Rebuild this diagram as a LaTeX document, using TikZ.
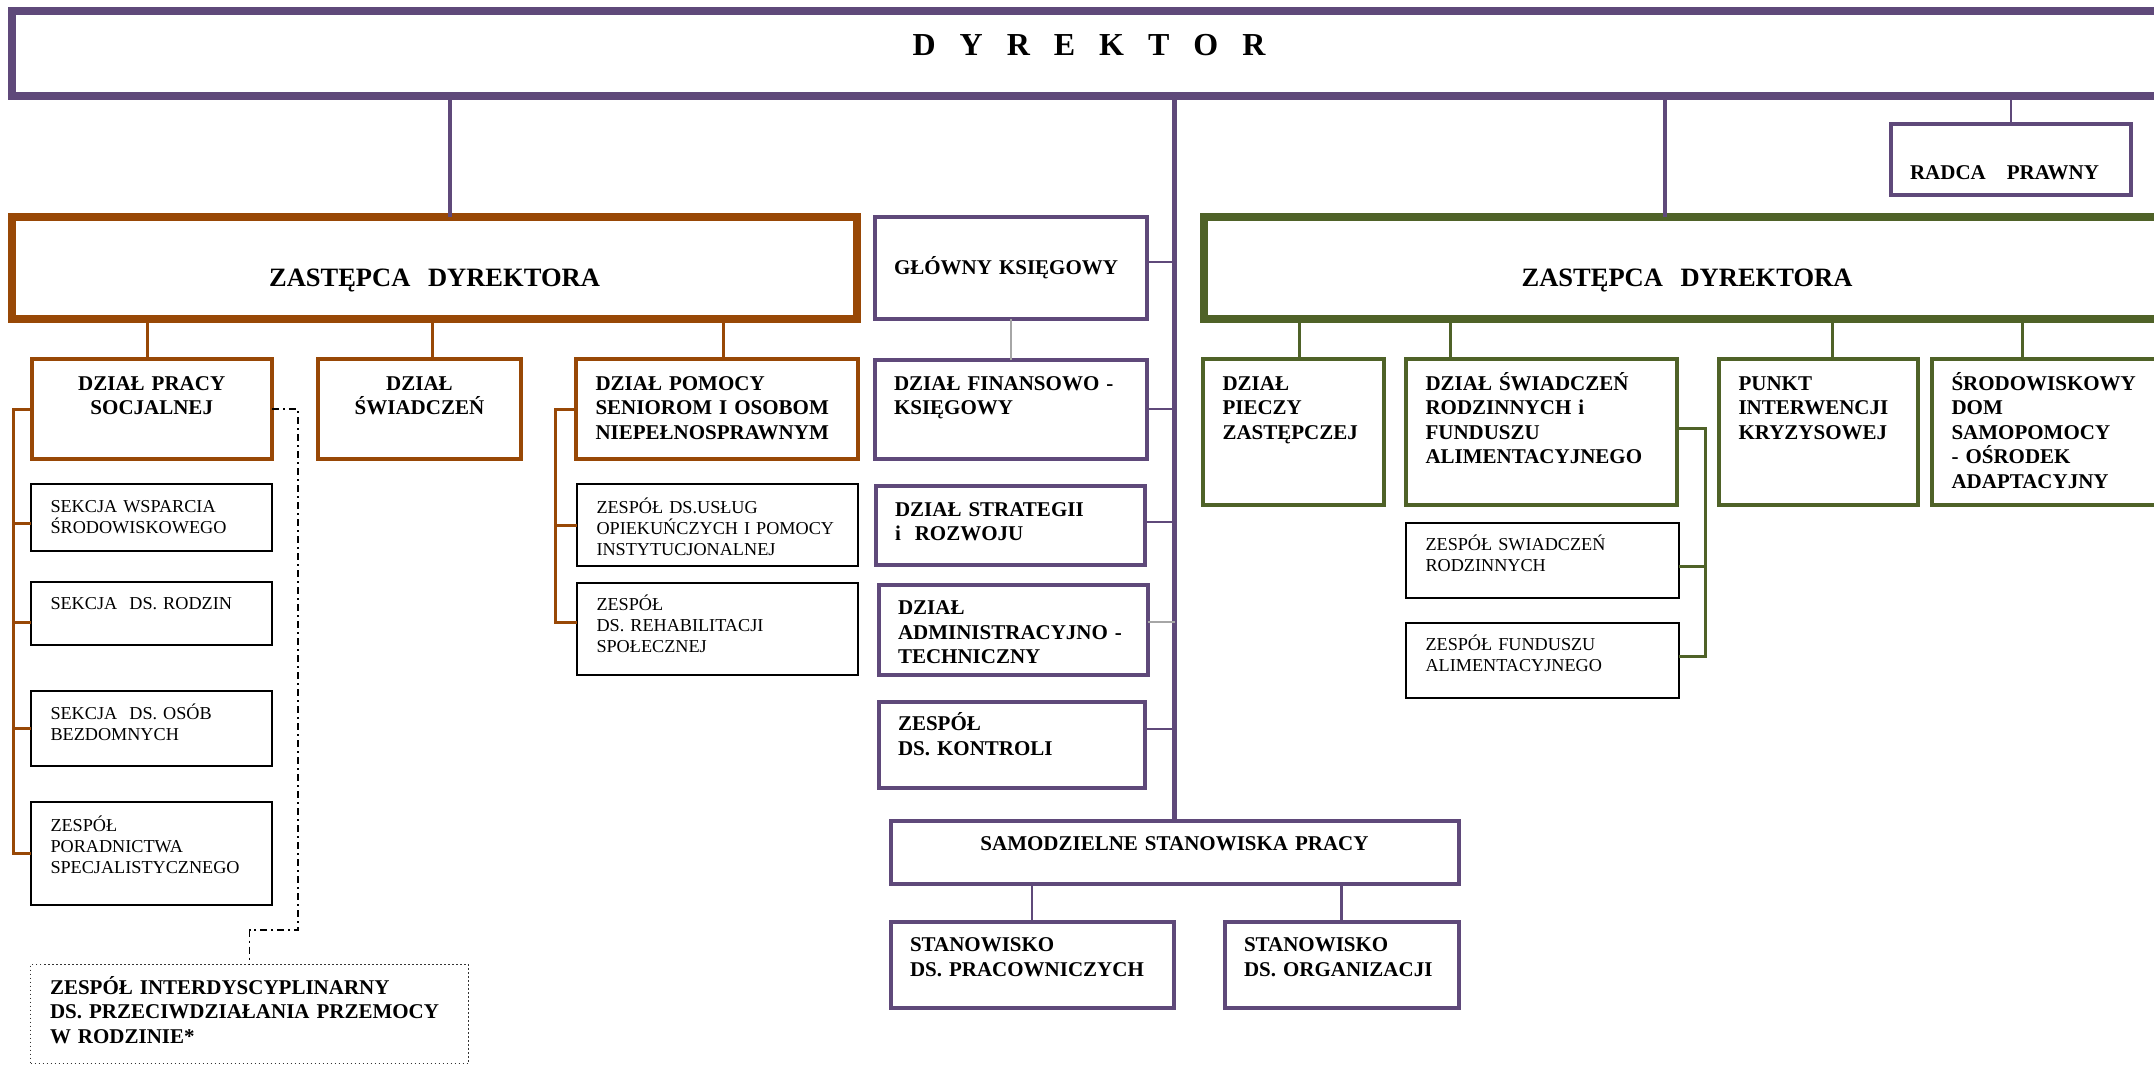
\documentclass[tikz,border=0pt]{standalone}
\usepackage{fontspec}
\setmainfont{Liberation Serif}
\usetikzlibrary{positioning}

\definecolor{purp}{HTML}{5F497A}
\definecolor{orng}{HTML}{984806}
\definecolor{grn}{HTML}{4F6228}
\definecolor{gry}{HTML}{A6A6A6}

\newcommand\dyfont{\fontsize{32}{36}\selectfont\bfseries}
\newcommand\zafont{\fontsize{26.5}{30}\selectfont\bfseries}
\newcommand\dzfont{\fontsize{21}{24.5}\selectfont\bfseries}
\newcommand\sefont{\fontsize{18.2}{21}\selectfont}
\newcommand\dgap{\hspace{24pt}}

\tikzset{
  unit/.style={draw=#1, line width=4pt, anchor=north west, outer sep=0pt,
    inner xsep=19.5pt, inner ysep=0pt, align=left, font=\dzfont},
  big/.style={unit=#1, line width=8pt, align=center, font=\zafont},
  sect/.style={unit=black, line width=2pt, font=\sefont},
  wh/.style n args={3}{text width=#1-39, text height=#3, text depth=#2-#3},
  wire/.style={draw=#1, line width=3pt},
}

\begin{document}
\begin{tikzpicture}[x=1pt,y=-1pt]
  \useasboundingbox (0,0) rectangle (2154,1067);

  % top level
  \node[big=purp, wh={2154}{85}{45}, font=\dyfont] (dyr) at (12,11)
    {D\dgap Y\dgap R\dgap E\dgap K\dgap T\dgap O\dgap R};
  \node[big=orng, wh={845}{102}{70}] (zast_l) at (12,217) {ZASTĘPCA\ \ DYREKTORA};
  \node[big=grn, wh={966}{102}{70}] (zast_r) at (1204,217) {ZASTĘPCA\ \ DYREKTORA};
  \node[unit=purp, wh={240}{71}{55.5}] (rp) at (1890.5,124.5) {RADCA\ \ \ PRAWNY};

  % left deputy
  \node[unit=orng, wh={240.5}{100}{31}, align=center] (d_ps) at (31.5,359) {DZIAŁ PRACY\\SOCJALNEJ};
  \node[unit=orng, wh={203}{100}{31}, align=center] (d_sw) at (318,359) {DZIAŁ\\ŚWIADCZEŃ};
  \node[unit=orng, wh={282}{100}{31}] (d_pom) at (576,359) {DZIAŁ POMOCY\\SENIOROM I OSOBOM\\NIEPEŁNOSPRAWNYM};

  \node[sect, wh={241}{67}{28}] (s_wsp) at (31,484) {SEKCJA WSPARCIA\\ŚRODOWISKOWEGO};
  \node[sect, wh={241}{63}{27}, below=31pt of s_wsp.south west, anchor=north west] (s_rodz) {SEKCJA\ \ DS. RODZIN};
  \node[sect, wh={241}{75}{28}, below=46pt of s_rodz.south west, anchor=north west] (s_bezd) {SEKCJA\ \ DS. OSÓB\\BEZDOMNYCH};
  \node[sect, wh={241}{103}{29}, below=36pt of s_bezd.south west, anchor=north west] (z_por) {ZESPÓŁ\\PORADNICTWA\\SPECJALISTYCZNEGO};
  \node[unit=black!80, line width=1.3pt, dash pattern=on 1.5pt off 2.5pt, wh={438}{99}{29.5}] (z_int) at (30.5,964.5)
    {ZESPÓŁ INTERDYSCYPLINARNY\\DS. PRZECIWDZIAŁANIA PRZEMOCY\\W RODZINIE*};

  \node[sect, wh={281}{82}{29}] (z_usl) at (577,484) {ZESPÓŁ DS.USŁUG\\OPIEKUŃCZYCH I POMOCY\\INSTYTUCJONALNEJ};
  \node[sect, wh={281}{92}{27.6}, below=17pt of z_usl.south west, anchor=north west] (z_reh) {ZESPÓŁ\\DS. REHABILITACJI\\SPOŁECZNEJ};

  % director's own units
  \node[unit=purp, wh={272}{101}{57}] (gk) at (874.5,217.5) {GŁÓWNY KSIĘGOWY};
  \node[unit=purp, wh={272}{99}{30.5}, below=41pt of gk.south west, anchor=north west] (d_fk) {DZIAŁ FINANSOWO -\\KSIĘGOWY};
  \node[unit=purp, wh={269}{79}{30.5}] (d_str) at (875.5,485.5) {DZIAŁ STRATEGII\\i\ \ ROZWOJU};
  \node[unit=purp, wh={269}{90}{30}] (d_adm) at (878.5,584.5) {DZIAŁ\\ADMINISTRACYJNO -\\TECHNICZNY};
  \node[unit=purp, wh={266}{86}{29}] (z_kon) at (878.5,701.5) {ZESPÓŁ\\DS. KONTROLI};
  \node[unit=purp, wh={568}{63}{30}, align=center] (ssp) at (890.5,820.5) {SAMODZIELNE STANOWISKA PRACY};
  \node[unit=purp, wh={283}{86}{30}] (st_pr) at (890.5,921.5) {STANOWISKO\\DS. PRACOWNICZYCH};
  \node[unit=purp, wh={234}{86}{30}, right=51pt of st_pr.north east, anchor=north west] (st_org) {STANOWISKO\\DS. ORGANIZACJI};

  % right deputy
  \node[unit=grn, wh={181}{146}{31}] (d_piecz) at (1203,359) {DZIAŁ\\PIECZY\\ZASTĘPCZEJ};
  \node[unit=grn, wh={271}{146}{31}] (d_swr) at (1406,359) {DZIAŁ ŚWIADCZEŃ\\RODZINNYCH i\\FUNDUSZU\\ALIMENTACYJNEGO};
  \node[unit=grn, wh={199}{146}{31}] (pik) at (1719,359) {PUNKT\\INTERWENCJI\\KRYZYSOWEJ};
  \node[unit=grn, wh={238}{146}{31}] (sdom) at (1932,359) {ŚRODOWISKOWY\\DOM\\SAMOPOMOCY\\- OŚRODEK\\ADAPTACYJNY};

  \node[sect, wh={273}{75}{27}] (z_swr) at (1406,523) {ZESPÓŁ SWIADCZEŃ\\RODZINNYCH};
  \node[sect, wh={273}{75}{27.7}, below=25pt of z_swr.south west, anchor=north west] (z_fund) {ZESPÓŁ FUNDUSZU\\ALIMENTACYJNEGO};

  % connectors from the director
  \draw[wire=purp, line width=4pt] ([xshift=15.5pt]zast_l.north) -- ([xshift=15.5pt]zast_l.north |- dyr.south);
  \draw[wire=purp, line width=4pt] ([xshift=-22pt]zast_r.north) -- ([xshift=-22pt]zast_r.north |- dyr.south);
  \draw[wire=purp, line width=2pt] (rp.north) -- (rp.north |- dyr.south);
  \draw[wire=purp, line width=5pt] (dyr.south -| ssp.north) -- (ssp.north);
  \foreach \n/\dy in {gk/6, d_fk/0, d_str/3, z_kon/15.5}
    \draw[wire=purp, line width=2.5pt] ([yshift=\dy pt]\n.east) -- ([yshift=\dy pt]\n.east -| ssp.north);
  \draw[wire=gry, line width=2pt] ([yshift=7.5pt]d_adm.east) -- ([yshift=7.5pt]d_adm.east -| ssp.north);
  \draw[wire=gry, line width=2pt] (gk.south) -- (d_fk.north);
  \foreach \n in {st_pr, st_org}
    \draw[wire=purp, line width=2.5pt] (\n.north) -- (\n.north |- ssp.south);

  % left deputy
  \foreach \n/\dx in {d_ps/-4, d_sw/12.5, d_pom/6}
    \draw[wire=orng] ([xshift=\dx pt]\n.north) -- ([xshift=\dx pt]\n.north |- zast_l.south);
  \coordinate (lb) at ([xshift=-18.5pt]d_ps.west);
  \draw[wire=orng] (d_ps.west) -- (lb) |- (z_por.west);
  \foreach \n/\dy in {s_wsp/-5.5, s_rodz/-8.5, s_bezd/0}
    \draw[wire=orng] ([yshift=\dy pt]\n.west) -- ([yshift=\dy pt]\n.west -| lb);
  \coordinate (mb) at ([xshift=-21pt]d_pom.west);
  \draw[wire=orng] (d_pom.west) -- (mb) |- ([yshift=7pt]z_reh.west);
  \draw[wire=orng] (z_usl.west) -- (z_usl.west -| mb);
  \draw[line width=1.5pt, dash pattern=on 7pt off 4pt on 2pt off 4pt]
    (d_ps.east) -- ++(26,0) -- ++(0,521) -| (z_int.north);

  % right deputy
  \foreach \n/\dx in {d_piecz/5.5, d_swr/-91.5, pik/13.5, sdom/-29}
    \draw[wire=grn] ([xshift=\dx pt]\n.north) -- ([xshift=\dx pt]\n.north |- zast_r.south);
  \coordinate (gb) at ([xshift=28pt, yshift=4pt]d_swr.east);
  \draw[wire=grn] ([yshift=4pt]d_swr.east) -- (gb) |- ([yshift=4.5pt]z_fund.east);
  \draw[wire=grn] ([yshift=-5.5pt]z_swr.east) -- ([yshift=-5.5pt]z_swr.east -| gb);
\end{tikzpicture}
\end{document}
